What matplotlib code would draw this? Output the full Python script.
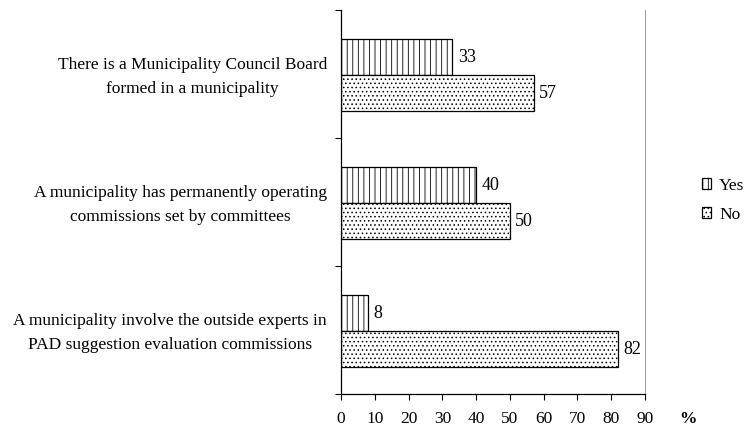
import matplotlib.pyplot as plt
import numpy as np

categories = ['A municipality involve the outside experts in\nPAD suggestion evaluation commissions',
              'A municipality has permanently operating\ncommissions set by committees',
              'There is a Municipality Council Board\nformed in a municipality']
yes_vals = [8, 40, 33]
no_vals = [82, 50, 57]
xticks = [0, 10, 20, 30, 40, 50, 60, 70, 80, 90]

plt.rcParams['font.family'] = ['Liberation Serif', 'DejaVu Serif']
plt.rcParams['hatch.linewidth'] = 0.6
plt.rcParams['hatch.color'] = '#999999'

fig = plt.figure(figsize=(7.44, 4.26), dpi=100)
ax = fig.add_axes([341/744, 32/426, 304/744, 384/426])

y = np.arange(len(categories))
h = 0.28
off = -0.01
b1 = ax.barh(y + h/2 + off, yes_vals, height=h, color='white', edgecolor='black',
             linewidth=0.9, hatch='|||', label='Yes')
b2 = ax.barh(y - h/2 + off, no_vals, height=h, color='white', edgecolor='black',
             linewidth=0.9, hatch='....', label='No')

for bars, vals in ((b1, yes_vals), (b2, no_vals)):
    for bar, v in zip(bars, vals):
        ax.text(bar.get_width() + 1.6, bar.get_y() + bar.get_height()/2, str(v),
                va='center', ha='left', fontsize=13)

ax.set_xlim(0, 90)
ax.set_ylim(-0.5, 2.5)
ax.set_xticks(xticks)
ax.set_xticklabels([str(t) for t in xticks], fontsize=12.5)
ax.set_yticks([-0.5, 0.5, 1.5, 2.5])
ax.set_yticklabels([])
# category labels: right-aligned block, lines centred
ax.set_yticks(y + 0.025, minor=True)
ax.set_yticklabels(categories, minor=True, fontsize=12.5, ha='right',
                   multialignment='center', linespacing=1.65)
ax.tick_params(axis='y', which='minor', length=0, pad=10)
ax.tick_params(axis='y', which='major', length=4, width=0.8)
ax.tick_params(axis='x', length=4, width=0.8, pad=8.5)
ax.spines['top'].set_visible(False)
ax.spines['right'].set_color('#a0a0a0')
ax.spines['left'].set_linewidth(0.9)
ax.spines['bottom'].set_linewidth(0.9)

fig.text(688/744, 1 - 419/426, '%', fontsize=12.5, fontweight='bold', ha='center', va='center')

leg = ax.legend(handles=[b1, b2], loc='center left', bbox_to_anchor=(1.135, 0.505), frameon=False,
                fontsize=12.5, handlelength=0.55, handleheight=0.55, handletextpad=0.45, labelspacing=0.75)

fig.savefig('out.png', dpi=100)
